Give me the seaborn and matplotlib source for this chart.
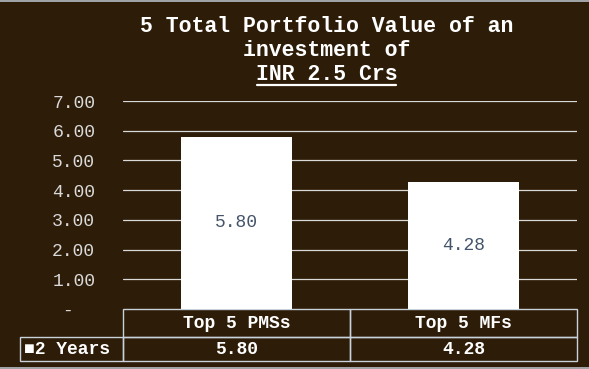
import pandas as pd
import matplotlib.pyplot as plt
import seaborn as sns
from matplotlib.ticker import FuncFormatter
from matplotlib.lines import Line2D

# data
funds = ["Top 5 PMSs", "Top 5 MFs"]
values = [5.80, 4.28]
series_name = "2 Years"
title_lines = ["5 Total Portfolio Value of an", "investment of", "INR 2.5 Crs"]

df = pd.DataFrame({"fund": funds, "value": values})

bg = "#2D1C07"
grid_col = "#D9D9D9"
label_col = "#44546A"
mono = ['Liberation Mono', 'DejaVu Sans Mono']

sns.set_style("dark")
plt.rcParams['font.family'] = mono

fig = plt.figure(figsize=(5.89, 3.69), dpi=100, facecolor=bg)
ax = fig.add_axes([123 / 589, 60 / 369, 454 / 589, 208 / 369])
ax.set_facecolor(bg)

sns.barplot(data=df, x="fund", y="value", color="white", saturation=1,
            width=0.49, edgecolor="none", ax=ax, zorder=3)

# data labels inside the bars
ax.bar_label(ax.containers[0], labels=[f"{v:.2f}" for v in values],
             label_type="center", color=label_col, fontsize=13)

# axes
ax.set_ylim(0, 7)
ax.set_xlim(-0.5, 1.5)
ax.set_yticks(range(0, 8))
ax.yaxis.set_major_formatter(FuncFormatter(lambda v, p: "-  " if v == 0 else f"{v:.2f}"))
ax.tick_params(axis="y", length=0, pad=20, labelsize=13, labelcolor=grid_col)
ax.set_xticks([])
ax.set_xlabel("")
ax.set_ylabel("")
for s in ax.spines.values():
    s.set_visible(False)
ax.grid(False)
for t in range(1, 8):
    ax.axhline(t, color=grid_col, linewidth=0.9, zorder=1)

# data table under the chart (first column holds the legend key)
tbl = ax.table(cellText=[["\u25A0" + series_name] + [f"{v:.2f}" for v in values]],
               colLabels=[""] + funds, cellLoc="center",
               colWidths=[103 / 557, 227 / 557, 227 / 557],
               bbox=[-103 / 454, -52 / 208, 557 / 454, 52 / 208])
tbl.auto_set_font_size(False)
tbl.set_fontsize(13)
for (r, c), cell in tbl.get_celld().items():
    cell.set_facecolor("none")
    cell.set_edgecolor("#C9D1DA")
    cell.set_linewidth(1)
    cell.set_height(28 if r == 0 else 24)
    cell.PAD = 0.04
    txt = cell.get_text()
    txt.set_color("white")
    txt.set_fontweight("bold")
    txt.set_fontfamily(mono)
    if c == 0:
        txt.set_horizontalalignment("left")
tbl[0, 0].set_visible(False)

# title, three lines, last one underlined
ys = [26, 50, 74]
cx = 327 / 589
for line, y in zip(title_lines, ys):
    fig.text(cx, 1 - y / 369, line, ha="center", va="center", color="white",
             fontsize=15.5, fontweight="bold")

# underline under "INR 2.5 Crs"
fig.add_artist(Line2D([257 / 589, 396 / 589], [1 - 85 / 369, 1 - 85 / 369],
                      color="white", linewidth=1.6))

# thin frame lines at top and bottom
fig.add_artist(Line2D([0, 1], [1 - 0.5 / 369, 1 - 0.5 / 369], color="#B8C0C8", linewidth=1.2))
fig.add_artist(Line2D([0, 1], [1.0 / 369, 1.0 / 369], color="#B8C0C8", linewidth=1.2))

fig.savefig("out.png", dpi=100, facecolor=bg)
